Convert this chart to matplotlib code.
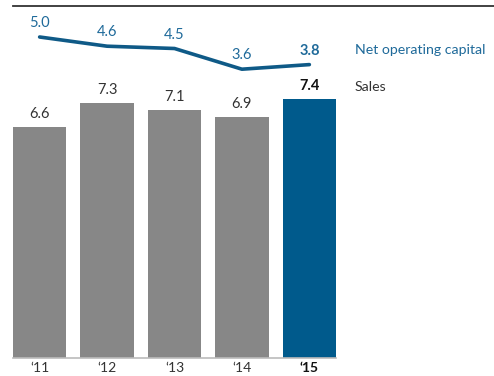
import matplotlib
matplotlib.use("Agg")
import matplotlib.pyplot as plt
from matplotlib.lines import Line2D

# ---------- data ----------
years = ["\u201811", "\u201812", "\u201813", "\u201814", "\u201815"]
sales = [6.6, 7.3, 7.1, 6.9, 7.4]
net_operating_capital = [5.0, 4.6, 4.5, 3.6, 3.8]

COLOR_GREY = "#878787"
COLOR_BLUE = "#005a8c"
COLOR_LINE = "#0f5a87"
COLOR_TEXT_BLUE = "#1f6a9a"
COLOR_TEXT = "#333333"

plt.rcParams["font.family"] = ["Lato", "DejaVu Sans"]

W, H = 494, 376
fig = plt.figure(figsize=(W / 100, H / 100), dpi=100)

# axes spans the bar area in pixels
x0, x1 = 13, 336
y_top, y_base = 6, 358
ax = fig.add_axes([x0 / W, (H - y_base) / H, (x1 - x0) / W, (y_base - y_top) / H])

xs = list(range(len(years)))
bw = 0.79
colors = [COLOR_GREY] * (len(years) - 1) + [COLOR_BLUE]
ax.bar(xs, sales, width=bw, color=colors, zorder=2)
ax.set_xlim(-bw / 2, len(years) - 1 + bw / 2)
ax.set_ylim(0, (y_base - y_top) / 35.0)

for i, v in enumerate(sales):
    last = i == len(sales) - 1
    ax.annotate(f"{v:.1f}", (i, v), xytext=(0, 4), textcoords="offset points",
                ha="center", va="bottom", fontsize=10.5,
                color="#111111" if last else COLOR_TEXT,
                fontweight="bold" if last else "normal")

# baseline
ax.axhline(0, color="#bbbbbb", lw=1.2, zorder=3, clip_on=False)

ax.set_xticks(xs)
ax.set_xticklabels(years, fontsize=10, color=COLOR_TEXT)
ax.get_xticklabels()[-1].set_fontweight("bold")
ax.get_xticklabels()[-1].set_color("#111111")
ax.tick_params(axis="x", length=0, pad=3)
ax.set_yticks([])
for s in ax.spines.values():
    s.set_visible(False)

# line on its own scale
ax2 = ax.twinx()
ax2.set_ylim(5.0 - (y_base - 37) / 23.0, 5.0 + (37 - y_top) / 23.0)
ax2.plot(xs, net_operating_capital, color=COLOR_LINE, lw=2.6, solid_capstyle="round", zorder=4)
for i, v in enumerate(net_operating_capital):
    last = i == len(net_operating_capital) - 1
    ax2.annotate(f"{v:.1f}", (i, v), xytext=(0, 5), textcoords="offset points",
                 ha="center", va="bottom", fontsize=10.5, color=COLOR_TEXT_BLUE,
                 fontweight="bold" if last else "normal")
ax2.set_yticks([])
for s in ax2.spines.values():
    s.set_visible(False)

# top rule
fig.add_artist(Line2D([x0 / W, 1.0], [(H - y_top) / H] * 2, color="#333333", lw=1.3))

# series labels
fig.text(355 / W, (H - 50) / H, "Net operating capital", fontsize=10.2,
         color=COLOR_TEXT_BLUE, ha="left", va="center")
fig.text(355 / W, (H - 87) / H, "Sales", fontsize=10.2,
         color=COLOR_TEXT, ha="left", va="center")

fig.savefig("out.png", dpi=100)
